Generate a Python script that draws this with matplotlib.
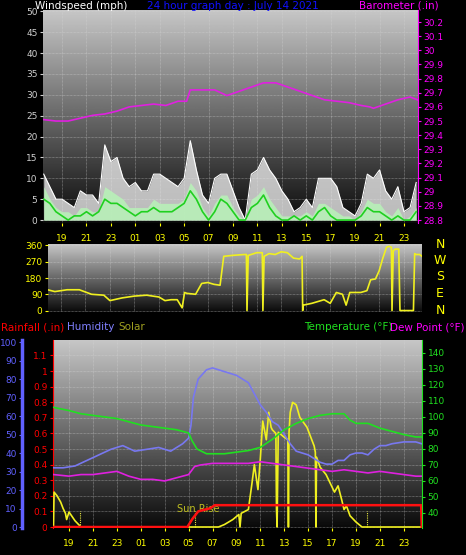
import numpy as np
import matplotlib
matplotlib.use("Agg")
import matplotlib.pyplot as plt

# ---------------- data ----------------
hour_ticks = [19, 21, 23, 25, 27, 29, 31, 33, 35, 37, 39, 41, 43, 45, 47]
hour_labels = ["19", "21", "23", "01", "03", "05", "07", "09", "11", "13", "15", "17", "19", "21", "23"]

wind_t = [17.5 + 0.5 * i for i in range(62)]
wind_gust = [11, 8, 5, 5, 4, 3, 7, 6, 6, 4, 18, 14, 15, 10, 8, 9, 7, 7, 11, 11, 10, 9, 8, 10, 19,
             12, 6, 4, 10, 11, 11, 7, 3, 0, 11, 12, 15, 12, 10, 7, 5, 2, 3, 5, 3, 10, 10, 10, 8, 3,
             2, 1, 4, 11, 10, 12, 7, 5, 8, 2, 3, 9]
wind_avg = [5, 4, 2, 1, 0, 1, 1, 2, 1, 2, 5, 4, 4, 3, 2, 1, 2, 2, 3, 2, 2, 2, 3, 4, 7,
            5, 2, 0, 2, 5, 4, 2, 0, 0, 3, 4, 6, 3, 1, 0, 0, 1, 0, 1, 0, 2, 3, 1, 0, 0,
            0, 0, 1, 3, 2, 2, 1, 0, 1, 0, 0, 2]
wind_speed = [8, 5, 3, 2, 2, 1, 3, 3, 2, 2, 8, 7, 6, 5, 3, 3, 3, 3, 5, 4, 4, 4, 4, 5, 9,
              7, 3, 1, 4, 6, 6, 3, 1, 0, 5, 6, 8, 5, 3, 1, 1, 1, 1, 2, 1, 4, 4, 3, 2, 1,
              1, 0, 2, 5, 4, 4, 2, 1, 3, 0, 1, 3]

baro_t = [17.5, 18.5, 19.5, 20.5, 21.5, 22.5, 23.5, 24.5, 25.5, 26.5, 27.5, 28.5, 29.2, 29.5,
          30.5, 31.5, 32.5, 33.5, 34.5, 35.5, 36.5, 37.5, 38.5, 39.5, 40.5, 41.5, 42.5, 43.5,
          44.2, 44.5, 45.5, 46.5, 47.5, 48.1]
baro = [29.51, 29.50, 29.50, 29.52, 29.54, 29.55, 29.57, 29.60, 29.61, 29.62, 29.61, 29.64, 29.64,
        29.72, 29.72, 29.72, 29.68, 29.71, 29.74, 29.77, 29.77, 29.74, 29.71, 29.68, 29.65, 29.64,
        29.63, 29.61, 29.60, 29.59, 29.62, 29.65, 29.67, 29.65]

dir_t = [17.9, 18.5, 19.5, 20.5, 21.5, 22.5, 23.0, 24.0, 25.0, 26.0, 27.0, 27.5, 28.0, 28.5, 28.9,
         29.1, 29.3, 30.0, 30.5, 31.0, 31.5, 32.0, 32.3, 33.0, 34.0, 34.15, 34.2, 34.3, 35.0, 35.45,
         35.5, 35.6, 36.0, 36.5, 37.0, 37.5, 38.0, 38.5, 38.7, 38.75, 38.8, 39.5, 40.0, 40.5, 41.0,
         41.5, 42.0, 42.3, 42.6, 43.0, 43.5, 44.0, 44.3, 44.7, 45.0, 45.3, 45.6, 45.8, 46.0, 46.05,
         46.15, 46.3, 46.6, 46.7, 47.0, 47.8, 47.9, 48.0, 48.3, 48.5]
dir_deg = [115, 105, 115, 115, 90, 85, 55, 70, 80, 85, 75, 55, 60, 60, 15,
           100, 95, 90, 150, 155, 145, 140, 300, 305, 310, 310, 0, 305, 320, 320,
           0, 300, 315, 310, 325, 320, 290, 285, 300, 0, 30, 40, 50, 60, 40,
           100, 90, 30, 100, 100, 100, 110, 170, 175, 220, 290, 350, 355, 350, 0,
           330, 340, 340, 0, 0, 0, 315, 310, 310, 300]

hum_t = [17.7, 18.5, 19.5, 20.5, 21.5, 22.5, 23.5, 24.5, 25.5, 26.5, 27.5, 28.5, 29.0, 29.2, 29.4,
         29.8, 30.5, 31.0, 32.0, 33.0, 34.0, 34.5, 35.0, 35.5, 36.0, 36.5, 37.0, 37.5, 38.0, 38.5,
         39.0, 39.5, 40.0, 40.5, 41.0, 41.5, 42.0, 42.5, 43.0, 43.5, 44.0, 44.5, 45.0, 45.5, 46.0,
         47.0, 48.0, 48.5]
humidity = [32, 32, 33, 36, 39, 42, 44, 41, 42, 43, 41, 45, 48, 55, 70, 80, 85, 86, 84, 82, 78, 72,
            66, 62, 57, 55, 50, 45, 41, 40, 39, 37, 35, 34, 34, 36, 36, 39, 40, 40, 39, 42, 44,
            44, 45, 46, 46, 45]

temp_t = [17.7, 19, 20, 21, 22, 23, 24, 25, 26, 27, 28, 29, 29.3, 29.7, 30.5, 32, 33, 34, 35, 36,
          37, 38, 39, 40, 41, 42, 42.5, 43, 44, 45, 46, 47, 48, 48.5]
temperature = [106, 104, 102, 101, 100, 99, 97, 95, 94, 93, 92, 90, 85, 80, 77, 77, 78, 79, 81, 86,
               92, 96, 99, 101, 102, 102, 98, 96, 96, 93, 91, 89, 87.5, 87.5]

dew_t = [17.7, 19, 20, 21, 22, 23, 24, 25, 26, 27, 28, 29, 29.5, 30, 31, 32, 33, 34, 35, 36, 37,
         38, 39, 40, 41, 42, 43, 44, 45, 46, 47, 48, 48.5]
dewpoint = [64, 63, 64, 64, 65, 66, 63, 61, 61, 60, 62, 64, 69, 70, 71, 71, 71, 71, 72, 71, 70,
            69, 68, 67, 66, 67, 66, 65, 66, 65, 64, 63, 63]

rain_t = [17.7, 28.9, 29.3, 29.8, 30.8, 31.2, 48.45, 48.5]
rain = [0, 0, 0.05, 0.10, 0.12, 0.14, 0.14, 0]

solar_t = [17.7, 17.75, 18.0, 18.3, 18.5, 18.7, 18.8, 19.0, 19.5, 20.0, 31.5, 32.0, 32.7, 33.2, 33.3,
           33.4, 34.0, 34.3, 34.5, 34.8, 35.0, 35.2, 35.5, 35.7, 35.9, 36.0, 36.3, 36.35, 36.4,
           36.5, 37.0, 37.3, 37.35, 37.4, 37.5, 37.7, 38.0, 38.3, 38.9, 39.5, 39.6, 39.65, 39.7,
           40.0, 40.5, 41.0, 41.2, 41.5, 41.8, 42.0, 42.2, 42.5, 43.0, 43.5, 48.5]
solar = [0, 280, 250, 200, 150, 110, 60, 120, 50, 0, 0, 20, 60, 100, 0,
         110, 140, 350, 500, 300, 550, 850, 700, 920, 800, 780, 750, 150, 0,
         760, 720, 700, 0, 760, 920, 1000, 980, 880, 800, 650, 600, 0, 560,
         480, 420, 320, 280, 330, 220, 140, 170, 90, 40, 0, 0]

# ---------------- helpers ----------------
W, H = 466, 555
fig = plt.figure(figsize=(W / 100, H / 100), dpi=100, facecolor="black")


def rect(l, t, r, b):
    return [l / W, 1 - b / H, (r - l) / W, (b - t) / H]


grad = np.linspace(0, 1, 256).reshape(-1, 1)


def background(ax):
    ax.set_facecolor("black")
    ax.imshow(grad, extent=[0, 1, 0, 1], transform=ax.transAxes, cmap="gray",
              vmin=-0.05, vmax=1.3, aspect="auto", zorder=0, origin="lower")


def grid(ax, yt):
    for x in hour_ticks:
        ax.axvline(x, color="#d8d8d8", lw=0.5, ls=(0, (1, 1)), zorder=1, alpha=0.6)
    for y in yt:
        ax.axhline(y, color="#d8d8d8", lw=0.5, ls=(0, (1, 1)), zorder=1, alpha=0.6)


FS = 6.5
LF = 7.5

# ---------------- top panel ----------------
ax1 = fig.add_axes(rect(43, 10, 418, 223))
background(ax1)
ax1.set_xlim(17.44, 48.15)
ax1.set_ylim(-0.7, 50.3)
grid(ax1, range(0, 51, 5))
ax1.fill_between(wind_t, wind_gust, color="#e8e8e8", alpha=0.8, zorder=2, lw=0)
ax1.plot(wind_t, wind_gust, color="white", lw=0.8, zorder=2)
ax1.fill_between(wind_t, wind_speed, color="#b8f0b8", alpha=0.9, zorder=3, lw=0)
ax1.plot(wind_t, wind_avg, color="#20d020", lw=1.2, zorder=4)
ax1.set_yticks(range(0, 51, 5))
ax1.tick_params(axis="y", colors="#d0d0d0", labelsize=FS, length=2, pad=2)
ax1.set_xticks(hour_ticks)
ax1.set_xticklabels(hour_labels)
ax1.tick_params(axis="x", colors="yellow", labelsize=FS, length=2, pad=6)
for s in ax1.spines.values():
    s.set_visible(False)
ax1b = ax1.twinx()
ax1b.set_ylim(28.779, 30.285)
ax1b.plot(baro_t, baro, color="#e020e0", lw=1.2, zorder=5)
bt = np.round(np.arange(28.8, 30.21, 0.1), 1)
ax1b.set_yticks(bt)
ax1b.set_yticklabels([f"{v:g}" for v in bt])
ax1b.tick_params(axis="y", colors="#ff00ff", labelsize=FS, length=2, pad=2)
for s in ax1b.spines.values():
    s.set_visible(False)
ax1b.spines["right"].set_visible(True)
ax1b.spines["right"].set_color("#ff00ff")
fig.text(35 / W, 1 - 6 / H, "Windspeed (mph)", color="white", fontsize=LF, va="center")
fig.text(233 / W, 1 - 6 / H, "24 hour graph day : July 14 2021", color="#1010ff", fontsize=LF,
         va="center", ha="center")
fig.text(439 / W, 1 - 6 / H, "Barometer (.in)", color="#ff00ff", fontsize=LF, va="center", ha="right")

# ---------------- middle panel ----------------
ax2 = fig.add_axes(rect(48, 244, 422, 312))
background(ax2)
ax2.set_xlim(17.94, 48.5)
ax2.set_ylim(-8, 368)
grid(ax2, [0, 90, 180, 270, 360])
ax2.plot(dir_t, dir_deg, color="#f0f020", lw=1.2, zorder=3)
ax2.set_yticks([0, 90, 180, 270, 360])
ax2.tick_params(axis="y", colors="yellow", labelsize=FS, length=2, pad=2)
ax2.set_xticks([])
for s in ax2.spines.values():
    s.set_visible(False)
for i, L in enumerate(["N", "W", "S", "E", "N"]):
    fig.text(440 / W, 1 - (244 + i * 16.5) / H, L, color="yellow", fontsize=9, va="center", ha="center")

# ---------------- bottom panel ----------------
ax3 = fig.add_axes(rect(53, 340, 422, 528))
background(ax3)
ax3.set_xlim(17.66, 48.52)
ax3.set_ylim(-0.0064, 1.199)
rt = np.round(np.arange(0, 1.11, 0.1), 1)
grid(ax3, rt)
ax3.set_yticks(rt)
ax3.set_yticklabels([f"{v:g}" for v in rt])
ax3.tick_params(axis="y", colors="red", labelsize=FS, length=2, pad=2)
ax3.set_xticks(hour_ticks)
ax3.set_xticklabels(hour_labels)
ax3.tick_params(axis="x", colors="yellow", labelsize=FS, length=2, pad=6)
for s in ax3.spines.values():
    s.set_visible(False)
ax3.spines["left"].set_visible(True)
ax3.spines["left"].set_color("red")
for x in [19.9, 29.5, 43.9]:
    ax3.plot([x, x], [0, 0.1], color="#e8e840", lw=0.8, ls=(0, (1, 1)), zorder=3)
ax3.text(29.8, 0.115, "Sun Rise", color="#c0c020", fontsize=7, ha="center", va="center", zorder=6)

ax_sol = ax3.twinx()
ax_sol.set_ylim(-8, 1500)
ax_sol.plot(solar_t, solar, color="#f0f020", lw=1.2, zorder=4)
ax_sol.axis("off")

ax_hum = ax3.twinx()
ax_hum.set_ylim(-0.54, 101.1)
ax_hum.plot(hum_t, humidity, color="#7878f0", lw=1.2)
ax_hum.yaxis.set_ticks_position("left")
for s in ax_hum.spines.values():
    s.set_visible(False)
ax_hum.spines["left"].set_visible(True)
ax_hum.spines["left"].set_position(("outward", 22))
ax_hum.spines["left"].set_color("#6060ff")
ax_hum.spines["left"].set_linewidth(2.5)
ax_hum.set_yticks(range(0, 101, 10))
ax_hum.tick_params(axis="y", colors="#6060ff", labelsize=FS, length=2, pad=2, left=True, right=False,
                   labelleft=True, labelright=False)

ax_t = ax3.twinx()
ax_t.set_ylim(30.6, 148.1)
ax_t.plot(temp_t, temperature, color="#20e020", lw=1.2)
ax_t.plot(dew_t, dewpoint, color="#e020e0", lw=1.2)
ax_t.set_yticks(range(40, 141, 10))
ax_t.tick_params(axis="y", colors="#20e020", labelsize=FS, length=2, pad=2)
for s in ax_t.spines.values():
    s.set_visible(False)
ax_t.spines["right"].set_visible(True)
ax_t.spines["right"].set_color("#20e020")

ax_r = ax3.twinx()
ax_r.set_ylim(-0.0064, 1.199)
ax_r.plot(rain_t, rain, color="#ff1010", lw=1.8)
ax_r.axis("off")

y_lab = 1 - 327 / H
fig.text(1 / W, y_lab, "Rainfall (.in)", color="red", fontsize=LF, va="center")
fig.text(67 / W, y_lab, "Humidity", color="#8080ff", fontsize=LF, va="center")
fig.text(118 / W, y_lab, "Solar", color="#a0a020", fontsize=LF, va="center")
fig.text(392 / W, y_lab, "Temperature (°F)", color="#20e020", fontsize=LF, va="center", ha="right")
fig.text(465 / W, y_lab, "Dew Point (°F)", color="#ff00ff", fontsize=LF, va="center", ha="right")

fig.savefig("out.png", dpi=100, facecolor="black")
